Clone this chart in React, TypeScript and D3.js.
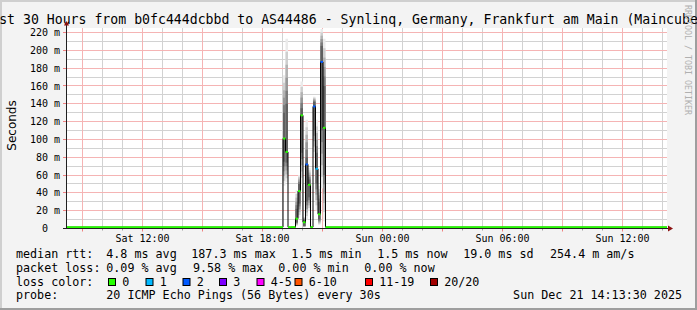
import React from "react";
import * as d3 from "d3";

// ---------- data ----------
const TITLE =
  "Last 30 Hours from b0fc444dcbbd to AS44486 - Synlinq, Germany, Frankfurt am Main (Maincubes)";
const GRAPH_START = "2025-12-20T08:13:30Z";
const GRAPH_END = "2025-12-21T14:13:30Z";

const sampleTimes = [
  "2025-12-20T08:13:30Z",
  "2025-12-20T19:01:30Z",
  "2025-12-20T19:09:00Z",
  "2025-12-20T19:16:30Z",
  "2025-12-20T19:24:00Z",
  "2025-12-20T19:31:30Z",
  "2025-12-20T19:39:00Z",
  "2025-12-20T19:46:30Z",
  "2025-12-20T19:54:00Z",
  "2025-12-20T20:01:30Z",
  "2025-12-20T20:09:00Z",
  "2025-12-20T20:16:30Z",
  "2025-12-20T20:24:00Z",
  "2025-12-20T20:31:30Z",
  "2025-12-20T20:39:00Z",
  "2025-12-20T20:46:30Z",
  "2025-12-20T20:54:00Z",
  "2025-12-20T21:01:30Z",
  "2025-12-20T21:09:00Z",
  "2025-12-21T14:13:30Z",
];
const medianMs = [1.5, 101, 86, 1.5, 1.5, 1.5, 11, 42, 127, 7, 72, 49, 1.5, 137, 67, 16, 187, 113, 1.5, 1.5];
const lossPings = [0, 0, 0, 0, 0, 0, 0, 0, 0, 0, 2, 0, 0, 2, 1, 0, 2, 0, 0, 0];
const smokeMinMs = [null, 48, 52, null, null, null, 3, 12, 50, 1.5, 10, 20, null, 80, 20, 4, 45, 8, null, null];
const smokeLowMs = [null, 75, 74, null, null, null, 7, 28, 85, 3, 30, 35, null, 110, 50, 10, 110, 60, null, null];
const smokeHighMs = [null, 130, 140, null, null, null, 22, 50, 135, 9, 80, 55, null, 142, 85, 30, 205, 160, null, null];
const smokeMaxMs = [null, 172, 213, null, null, null, 43, 60, 165, 13, 122, 68, null, 148, 122, 48, 224, 213, null, null];

const yTickMs = [0, 20, 40, 60, 80, 100, 120, 140, 160, 180, 200, 220];
const yMinorMs = [10, 30, 50, 70, 90, 110, 130, 150, 170, 190, 210];
const yTickLabels = ["0  ", "20 m", "40 m", "60 m", "80 m", "100 m", "120 m", "140 m", "160 m", "180 m", "200 m", "220 m"];
const xTickTimes = [
  "2025-12-20T12:00:00Z",
  "2025-12-20T18:00:00Z",
  "2025-12-21T00:00:00Z",
  "2025-12-21T06:00:00Z",
  "2025-12-21T12:00:00Z",
];
const xTickLabels = ["Sat 12:00", "Sat 18:00", "Sun 00:00", "Sun 06:00", "Sun 12:00"];

const lossLegendLabels = ["0", "1", "2", "3", "4-5", "6-10", "11-19", "20/20"];
const lossLegendMax = [0, 1, 2, 3, 5, 10, 19, 20];
const lossLegendColors = ["#26ff00", "#00b8ff", "#0059ff", "#7e00ff", "#ff00ff", "#ff5500", "#ff0000", "#a10000"];

const rttStats = ["4.8 ms avg", "187.3 ms max", "1.5 ms min", "1.5 ms now", "19.0 ms sd", "254.4 m am/s"];
const lossStats = ["0.09 % avg", "9.58 % max", "0.00 % min", "0.00 % now"];
const probeText = "20 ICMP Echo Pings (56 Bytes) every 30s";
const stampText = "Sun Dec 21 14:13:30 2025";

// ---------- layout ----------
const W = 697;
const H = 310;
const PL = 67;
const PR = 667;
const PT = 28.5;
const PB = 228.5;
const rttX = [106.3, 191.3, 291.2, 377.2, 463.2, 550];
const lossX = [106.3, 193, 278.3, 364.3];
const lossBoxX = [108, 145.5, 182.5, 219, 256.5, 294.5, 365, 430];
const MONO = "'DejaVu Sans Mono', monospace";

const crisp = (v: number) => Math.round(v - 0.5) + 0.5;

export default function App() {
  const x = d3
    .scaleUtc()
    .domain([new Date(GRAPH_START), new Date(GRAPH_END)])
    .range([PL, PR]);
  const y = d3.scaleLinear().domain([0, 224.5]).range([PB, PT]);

  const times = sampleTimes.map((s) => new Date(s));
  const hourTicks = x.ticks(d3.utcHour.every(1) as any);
  const minorX = hourTicks.filter((h) => h.getUTCHours() % 3 !== 0);
  const majorX = hourTicks.filter((h) => h.getUTCHours() % 3 === 0);
  const majorY = yTickMs.filter((v) => v > 0);

  const lossColor = (n: number) => {
    const i = lossLegendMax.findIndex((m) => n <= m);
    return lossLegendColors[i < 0 ? lossLegendColors.length - 1 : i];
  };

  const stepLine = d3
    .line<number>()
    .x((_, i) => x(times[i]))
    .y((d) => y(d))
    .curve(d3.curveStepAfter);

  const NB = 6;
  const shade = d3.interpolateRgb("#ebebeb", "#606060");

  const smoke: React.ReactNode[] = [];
  for (let i = 0; i < times.length - 1; i++) {
    const mn = smokeMinMs[i];
    if (mn == null) continue;
    const lo = smokeLowMs[i] as number;
    const hi = smokeHighMs[i] as number;
    const mx = smokeMaxMs[i] as number;
    const x0 = x(times[i]);
    const x1 = x(times[i + 1]);
    for (let k = 0; k < NB; k++) {
      const t = k / (NB - 1);
      const a = mn + (lo - mn) * t;
      const b = mx + (hi - mx) * t;
      smoke.push(
        <rect
          key={`s${i}-${k}`}
          x={x0}
          width={x1 - x0}
          y={y(b)}
          height={y(a) - y(b)}
          fill={shade(t)}
        />
      );
    }
  }

  const medianSegs: React.ReactNode[] = [];
  for (let i = 0; i < times.length - 1; i++) {
    medianSegs.push(
      <line
        key={`m${i}`}
        x1={x(times[i])}
        x2={x(times[i + 1])}
        y1={y(medianMs[i])}
        y2={y(medianMs[i])}
        stroke={lossColor(lossPings[i])}
        strokeWidth={2}
      />
    );
  }

  const legendY = [257.5, 271.5, 285.5, 299];

  const minorColor = "#d2d2d2";
  const majorColor = "#f5b4b4";

  return (
    <svg
      width={W}
      height={H}
      style={{ position: "absolute", left: 0, top: 0, display: "block" }}
    >
      <rect x={0} y={0} width={W} height={H} fill="#f3f3f3" />
      {/* shade frame */}
      <rect x={0} y={0} width={W} height={2} fill="#cfcfcf" />
      <rect x={0} y={0} width={2} height={H} fill="#cfcfcf" />
      <rect x={W - 2} y={0} width={2} height={H} fill="#9e9e9e" />
      <rect x={0} y={H - 2} width={W} height={2} fill="#9e9e9e" />

      {/* title */}
      <text
        x={W / 2}
        y={23.5}
        textAnchor="middle"
        fontFamily={MONO}
        fontSize={13.2}
        fill="#000"
      >
        {TITLE}
      </text>

      {/* canvas */}
      <rect x={PL} y={PT - 0.5} width={PR - PL} height={PB - PT} fill="#ffffff" />

      {/* minor grid */}
      {yMinorMs.map((v) => (
        <line
          key={`gy${v}`}
          x1={PL}
          x2={PR}
          y1={crisp(y(v))}
          y2={crisp(y(v))}
          stroke={minorColor}
          strokeWidth={1}
        />
      ))}
      {minorX.map((h) => {
        const xx = crisp(x(h));
        return (
          <g key={`gx${+h}`}>
            <line x1={xx} x2={xx} y1={PT - 0.5} y2={PB} stroke={minorColor} strokeWidth={1} />
            <line x1={xx} x2={xx} y1={PB} y2={PB + 2} stroke="#a0a0a0" />
          </g>
        );
      })}
      {/* major grid */}
      {majorY.map((v) => (
        <line
          key={`My${v}`}
          x1={PL}
          x2={PR}
          y1={crisp(y(v))}
          y2={crisp(y(v))}
          stroke={majorColor}
          strokeWidth={1}
        />
      ))}
      {majorX.map((h) => {
        const xx = crisp(x(h));
        return (
          <g key={`Mx${+h}`}>
            <line x1={xx} x2={xx} y1={PT - 0.5} y2={PB} stroke={majorColor} strokeWidth={1} />
            <line x1={xx} x2={xx} y1={PB} y2={PB + 3} stroke="#f08080" />
          </g>
        );
      })}
      {yTickMs.map((v) => (
        <line
          key={`ty${v}`}
          x1={PL - 4}
          x2={PL}
          y1={crisp(y(v))}
          y2={crisp(y(v))}
          stroke={v === 0 ? "#202020" : "#f08080"}
        />
      ))}

      {/* smoke */}
      {smoke}
      {/* median connector */}
      <path d={stepLine(medianMs) || ""} fill="none" stroke="#000" strokeWidth={1} />
      {/* colored medians */}
      {medianSegs}

      {/* axes */}
      <line x1={PL - 0.5} x2={PL - 0.5} y1={PB} y2={23} stroke="#202020" />
      <line x1={PL - 3} x2={PR + 2} y1={PB} y2={PB} stroke="#202020" />
      <path
        d={`M${PL - 3},${25.5} L${PL + 2},${25.5} L${PL - 0.5},${21} Z`}
        fill="#8b1010"
      />
      <path
        d={`M${PR + 1},${PB - 3} L${PR + 1},${PB + 3} L${PR + 6},${PB} Z`}
        fill="#8b1010"
      />

      {/* y labels */}
      {yTickMs.map((v, i) => (
        <text
          key={`yl${v}`}
          x={60}
          y={y(v) + 3.6}
          textAnchor="end"
          fontFamily={MONO}
          fontSize={10}
          fill="#000"
          style={{ whiteSpace: "pre" }}
        >
          {yTickLabels[i]}
        </text>
      ))}
      {/* x labels */}
      {xTickTimes.map((t, i) => (
        <text
          key={`xl${t}`}
          x={x(new Date(t))}
          y={241.5}
          textAnchor="middle"
          fontFamily={MONO}
          fontSize={10}
          fill="#000"
        >
          {xTickLabels[i]}
        </text>
      ))}

      {/* vertical label */}
      <text
        transform={`translate(15.5, ${(PT + PB) / 2 - 3}) rotate(-90)`}
        textAnchor="middle"
        fontFamily="'DejaVu Sans', sans-serif"
        fontSize={12}
        fill="#000"
      >
        Seconds
      </text>

      {/* watermark */}
      <text
        transform={`translate(684.5, 5) rotate(90)`}
        fontFamily={MONO}
        fontSize={8.3}
        fill="#b0b0b0"
      >
        RRDTOOL / TOBI OETIKER
      </text>

      {/* legend */}
      <g fontFamily={MONO} fontSize={11.7} fill="#000" style={{ whiteSpace: "pre" }}>
        <text x={16} y={legendY[0]}>median rtt:</text>
        {rttStats.map((s, i) => (
          <text key={`r${i}`} x={rttX[i]} y={legendY[0]}>
            {s}
          </text>
        ))}
        <text x={16} y={legendY[1]}>packet loss:</text>
        {lossStats.map((s, i) => (
          <text key={`l${i}`} x={lossX[i]} y={legendY[1]}>
            {s}
          </text>
        ))}
        <text x={16} y={legendY[2]}>loss color:</text>
        {lossLegendLabels.map((s, i) => (
          <g key={`lc${i}`}>
            <rect
              x={lossBoxX[i] + 0.5}
              y={278.5}
              width={7}
              height={7}
              fill={lossLegendColors[i]}
              stroke="#000"
              strokeWidth={1}
            />
            <text x={lossBoxX[i] + 14.2} y={legendY[2]}>
              {s}
            </text>
          </g>
        ))}
        <text x={16} y={legendY[3]}>probe:</text>
        <text x={106.3} y={legendY[3]}>{probeText}</text>
        <text x={682} y={legendY[3]} textAnchor="end">
          {stampText}
        </text>
      </g>
    </svg>
  );
}
